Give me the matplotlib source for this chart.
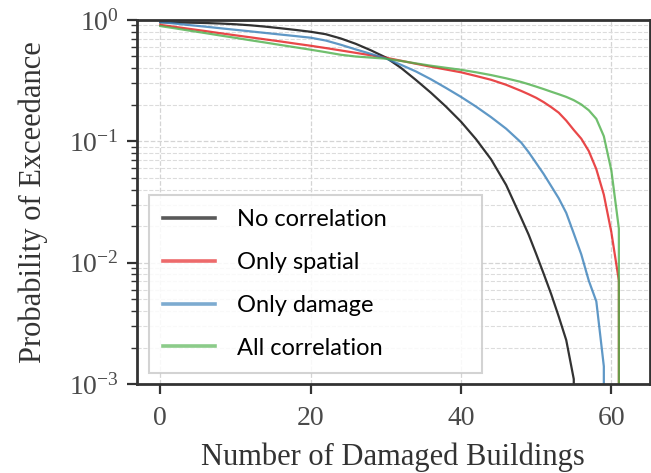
import matplotlib.pyplot as plt
from matplotlib.ticker import LogLocator, NullFormatter

plt.rcParams['font.family'] = ['Liberation Serif', 'DejaVu Serif']
plt.rcParams['mathtext.fontset'] = 'stix'

# number of damaged buildings (x) and exceedance probabilities per case
n_damaged = [0, 2, 4, 6, 8, 10, 12, 14, 16, 18, 20, 22, 24, 26, 28, 30, 32, 34,
             36, 38, 40, 42, 44, 46, 48, 49, 50, 51, 52, 53, 54, 55, 56, 57, 58,
             59, 60, 61, 62]

p_no_corr = [0.955, 0.953, 0.948, 0.942, 0.933, 0.920, 0.902, 0.879, 0.853,
             0.826, 0.798, 0.762, 0.703, 0.635, 0.562, 0.490, 0.403, 0.320,
             0.251, 0.193, 0.145, 0.104, 0.071, 0.0437, 0.0234, 0.0170, 0.0118,
             0.0081, 0.0055, 0.0036, 0.0023, 0.0011, 0, 0, 0, 0, 0, 0, 0]

p_spatial = [0.910, 0.875, 0.841, 0.809, 0.776, 0.746, 0.718, 0.690, 0.664,
             0.637, 0.612, 0.586, 0.560, 0.535, 0.511, 0.488, 0.461, 0.435,
             0.411, 0.390, 0.370, 0.345, 0.321, 0.292, 0.260, 0.244, 0.228,
             0.210, 0.191, 0.172, 0.148, 0.124, 0.105, 0.083, 0.0589, 0.0363,
             0.0178, 0.0071, 0]

p_damage = [0.959, 0.931, 0.904, 0.879, 0.853, 0.828, 0.804, 0.780, 0.757,
            0.735, 0.713, 0.676, 0.624, 0.571, 0.525, 0.481, 0.427, 0.376,
            0.324, 0.275, 0.232, 0.193, 0.158, 0.127, 0.0977, 0.0813, 0.0661,
            0.0537, 0.0427, 0.0339, 0.0257, 0.0174, 0.0117, 0.0071, 0.0048,
            0.0014, 0, 0, 0]

p_all = [0.889, 0.851, 0.813, 0.778, 0.743, 0.711, 0.679, 0.650, 0.621,
         0.594, 0.568, 0.542, 0.516, 0.499, 0.489, 0.479, 0.459, 0.438,
         0.419, 0.403, 0.388, 0.370, 0.351, 0.330, 0.308, 0.295, 0.282,
         0.269, 0.256, 0.244, 0.232, 0.218, 0.201, 0.180, 0.153, 0.110,
         0.0575, 0.0191, 0]

labels = ['No correlation', 'Only spatial', 'Only damage', 'All correlation']
colors = ['black', '#e41a1c', '#377eb8', '#4daf4a']

fig = plt.figure(figsize=(6.51, 4.73), dpi=100)
ax = fig.add_axes([0.2104, 0.188, 0.7876, 0.770])

for p, lab, c in zip([p_no_corr, p_spatial, p_damage, p_all], labels, colors):
    ax.plot(n_damaged, p, color=c, lw=1.6, alpha=0.8, label=lab)

ax.set_yscale('log')
ax.set_ylim(1e-3, 1)
ax.set_xticks([0, 20, 40, 60])
ax.yaxis.set_minor_locator(LogLocator(base=10, subs=range(2, 10)))
ax.yaxis.set_minor_formatter(NullFormatter())

ax.grid(True, which='major', ls='--', color='#d4d4d4', lw=0.9)
ax.grid(True, which='minor', axis='y', ls='--', color='#dcdcdc', lw=0.8)

for s in ax.spines.values():
    s.set_color('#333333')
    s.set_linewidth(2.0)
ax.tick_params(which='major', direction='out', length=7, width=1.6,
               color='#333333', labelsize=20, labelcolor='#4a4a4a')
ax.tick_params(axis='x', which='major', pad=9)
ax.tick_params(axis='y', which='major', pad=6)
ax.tick_params(which='minor', direction='out', length=4, width=1.0,
               color='#333333')

ax.set_xlabel('Number of Damaged Buildings', fontsize=22, color='#333333',
              labelpad=8)
ax.set_ylabel('Probability of Exceedance', fontsize=22, color='#333333',
              labelpad=15)

leg = ax.legend(loc='lower left', bbox_to_anchor=(0.023, 0.030, 0.65, 0.5),
                mode='expand', borderaxespad=0, fancybox=False,
                prop={'family': 'Lato', 'size': 17}, handlelength=2.2,
                handletextpad=0.9, labelspacing=0.92, borderpad=0.62,
                edgecolor='#cccccc', framealpha=0.85)
for h in leg.get_lines():
    h.set_linewidth(2.6)
    h.set_alpha(0.65)
leg.get_frame().set_linewidth(1.5)

fig.savefig('out.png', dpi=100)
